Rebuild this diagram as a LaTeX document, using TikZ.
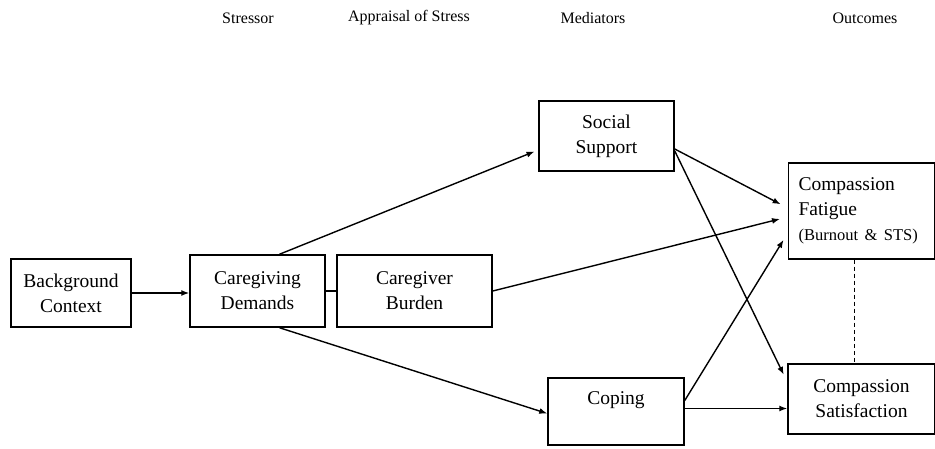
\documentclass[tikz,border=0pt]{standalone}
\usepackage{fontspec}
\setmainfont{Liberation Serif}
\usepackage{tikz}
\usetikzlibrary{arrows.meta}

\tikzset{
  box/.style={draw, line width=1.5pt, align=center, inner sep=2pt,
    font=\rmfamily\fontsize{19.5}{25}\selectfont},
  stage/.style={font=\rmfamily\fontsize{16}{18}\selectfont},
  link/.style={-{Latex[length=8pt,width=6pt]}, line width=1.4pt}
}

\begin{document}
\begin{tikzpicture}[x=1pt, y=-1pt]
  \useasboundingbox (0,0) rectangle (935,449);

  % stage headings
  \node[stage] (stressor) at (248,18) {Stressor};
  \node[stage] (appraisal) at (409,18) {Appraisal of Stress};
  \node[stage] (mediators) at (593,18) {Mediators};
  \node[stage] (outcomes) at (865,18) {Outcomes};

  % boxes
  \node[box, minimum width=120pt, minimum height=68pt] (bg) at (71,293) {Background\\Context};
  \node[box, minimum width=135pt, minimum height=72pt] (cgd) at (257.5,291) {Caregiving\\Demands};
  \node[box, minimum width=155pt, minimum height=72pt] (cgb) at (414.5,291) {Caregiver\\Burden};
  \node[box, minimum width=135pt, minimum height=70pt] (ss) at (606.5,136) {Social\\Support};
  \node[box, minimum width=136pt, minimum height=67pt] (cop) at (616,411.5) {Coping\\[2pt]\mbox{}};
  \node[box, align=left, text width=126pt, inner xsep=10pt, minimum height=96pt] (cf) at (861.5,211)
    {Compassion\\Fatigue\\{\fontsize{16.5}{20}\selectfont(Burnout \& STS)}};
  \node[box, minimum width=147pt, minimum height=70pt] (cs) at (861.5,399) {Compassion\\Satisfaction};

  % paths
  \draw[link] (bg.east) -- (bg.east -| cgd.west);
  \draw[line width=1.4pt] (cgd.east) -- (cgb.west);
  \draw[link, shorten >=4pt] ([xshift=22pt]cgd.north) -- ([yshift=-14pt]ss.west);
  \draw[link] ([xshift=22pt]cgd.south) -- ([yshift=-2pt]cop.west);
  \draw[link, shorten >=8pt] (cgb.east) -- ([yshift=-6pt]cf.west);
  \draw[link, shorten >=8pt] ([yshift=-13pt]ss.east) -- ([yshift=3pt]cf.west);
  \draw[link, shorten >=8pt] ([yshift=-15pt]ss.east) -- ([yshift=17pt]cs.west);
  \draw[link, shorten >=8pt] ([yshift=11pt]cop.east) -- ([yshift=-22pt]cf.west);
  \draw[link] ([yshift=3pt]cop.east) -- ([yshift=3pt]cop.east -| cs.west);
  \draw[dash pattern=on 4pt off 3pt, line width=1.4pt] ([xshift=-7pt]cf.south) -- ([xshift=-7pt]cs.north);
\end{tikzpicture}
\end{document}
